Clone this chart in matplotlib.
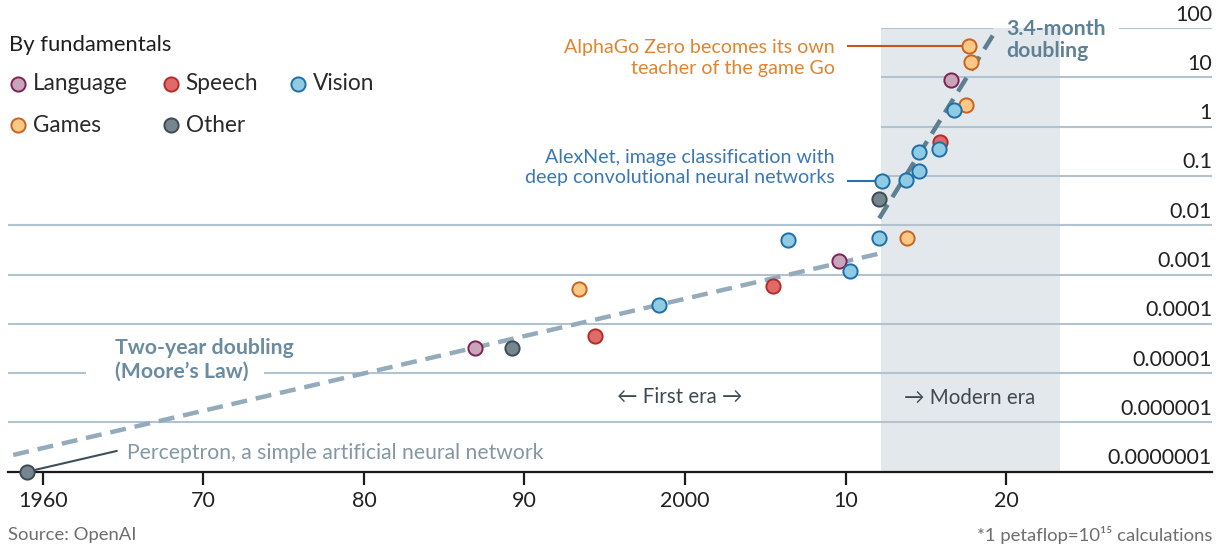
import matplotlib
matplotlib.use("Agg")
import matplotlib.pyplot as plt
import numpy as np

plt.rcParams['font.family'] = ['Lato', 'DejaVu Sans']

# ---------------- data ----------------
language_year = [1986.9, 2009.6, 2016.56]
language_pf = [3.3e-5, 1.9e-3, 8.8]

speech_year = [1994.4, 2005.45, 2015.85]
speech_pf = [5.7e-5, 5.8e-4, 0.49]

games_year = [1993.4, 2013.8, 2017.47, 2017.7, 2017.79]
games_pf = [5.0e-4, 5.4e-3, 2.7, 43.0, 20.7]

other_year = [1959.04, 1989.24, 2012.09]
other_pf = [1e-7, 3.3e-5, 0.034]

vision_year = [1998.37, 2006.4, 2010.27, 2012.07, 2012.28, 2013.75, 2014.58, 2014.58, 2015.83, 2016.72]
vision_pf = [2.4e-4, 4.9e-3, 1.2e-3, 5.5e-3, 0.080, 0.083, 0.31, 0.128, 0.35, 2.2]

moore_year = [1958.17, 2012.3]
moore_pf = [10 ** -6.66, 10 ** -2.56]

modern_year = [2012.09, 2019.45]
modern_pf = [10 ** -1.86, 10 ** 2.0]

modern_era_span = [2012.2, 2023.35]

x_ticks = [1960, 1970, 1980, 1990, 2000, 2010, 2020]
x_tick_labels = ["1960", "70", "80", "90", "2000", "10", "20"]
y_ticks = [1e2, 1e1, 1e0, 1e-1, 1e-2, 1e-3, 1e-4, 1e-5, 1e-6, 1e-7]
y_tick_labels = ["100", "10", "1", "0.1", "0.01", "0.001", "0.0001", "0.00001", "0.000001", "0.0000001"]

categories = ["Language", "Speech", "Vision", "Games", "Other"]
face_colors = {"Language": "#c9a5ba", "Speech": "#e06a68", "Vision": "#8fcbe2",
               "Games": "#fbc886", "Other": "#76868f"}
edge_colors = {"Language": "#7d2157", "Speech": "#b32b2b", "Vision": "#1e6ea8",
               "Games": "#c9631d", "Other": "#3e4b53"}

# ---------------- figure ----------------
W, H = 1224, 549
fig = plt.figure(figsize=(W / 100, H / 100), dpi=100)
ax_l, ax_r, ax_t, ax_b = 8, 1212, 28, 471.7
ax = fig.add_axes([ax_l / W, 1 - ax_b / H, (ax_r - ax_l) / W, (ax_b - ax_t) / H])
ax.set_yscale('log')
ax.set_xlim(1957.84, 2032.81)
ax.set_ylim(1e-7, 1e2)
for s in ['top', 'right', 'left']:
    ax.spines[s].set_visible(False)
ax.spines['bottom'].set_linewidth(1.6)
ax.spines['bottom'].set_color('#1a1a1a')
ax.set_yticks([])
ax.yaxis.set_minor_locator(matplotlib.ticker.NullLocator())
ax.set_xticks(x_ticks)
ax.set_xticklabels(x_tick_labels, fontsize=15.5, color='#222222')
ax.tick_params(axis='x', length=9, width=1.6, color='#1a1a1a', pad=5)

def px(x, y):
    return x / W, 1 - y / H

# shaded modern era
ax.axvspan(modern_era_span[0], modern_era_span[1], color='#e3e8ec', zorder=0, lw=0)

grid_c = '#b2c3cf'
x0, x1 = ax.get_xlim()
shade0 = modern_era_span[0]
for v in y_ticks:
    if v == 1e-7:
        continue
    if v == 1e2:
        ax.hlines(v, shade0, 2019.2, color=grid_c, lw=1.5, zorder=1)
        ax.hlines(v, 2027.05, x1, color=grid_c, lw=1.5, zorder=1)
    elif v >= 1e-1:
        ax.hlines(v, shade0, x1, color=grid_c, lw=1.5, zorder=1)
    elif v == 1e-5:
        ax.hlines(v, x0, 1962.7, color=grid_c, lw=1.5, zorder=1)
        ax.hlines(v, 1973.8, x1, color=grid_c, lw=1.5, zorder=1)
    else:
        ax.hlines(v, x0, x1, color=grid_c, lw=1.5, zorder=1)

# y labels above gridlines at the right
for v, lab in zip(y_ticks, y_tick_labels):
    ax.annotate(lab, xy=(1.0, v), xycoords=('axes fraction', 'data'),
                xytext=(0, 2.5), textcoords='offset points', ha='right', va='bottom',
                fontsize=15.5, color='#222222', annotation_clip=False)

# trend lines
ax.plot(moore_year, moore_pf, color='#93abbb', lw=3.2, dashes=(3.6, 2.0), zorder=2,
        dash_capstyle='butt')
ax.plot(modern_year, modern_pf, color='#5e7f92', lw=3.2, dashes=(3.6, 2.0), zorder=2,
        dash_capstyle='butt')

# connectors
ax.plot([2010.14, 2017.7], [43.0, 43.0], color='#c4561a', lw=1.5, zorder=3)
ax.plot([2010.14, 2012.28], [0.080, 0.080], color='#2a72ab', lw=1.5, zorder=3)
ax.plot([1959.04, 1964.6], [1e-7, 10 ** -6.58], color='#3e4f5a', lw=1.5, zorder=3, clip_on=False)

# points
series = {
    "Language": (language_year, language_pf),
    "Speech": (speech_year, speech_pf),
    "Games": (games_year, games_pf),
    "Other": (other_year, other_pf),
    "Vision": (vision_year, vision_pf),
}
for name, (xs, ys) in series.items():
    ax.scatter(xs, ys, s=105, facecolor=face_colors[name], edgecolor=edge_colors[name],
               linewidth=1.4, zorder=5, clip_on=False)

# annotations text
fig.text(*px(835, 58), "AlphaGo Zero becomes its own\nteacher of the game Go", ha='right',
         va='center', fontsize=14.1, color='#e0842f', linespacing=1.25)
fig.text(*px(835, 167.5), "AlexNet, image classification with\ndeep convolutional neural networks",
         ha='right', va='center', fontsize=14.1, color='#3b78b3', linespacing=1.25)
fig.text(*px(1006, 40), "3.4-month\ndoubling", ha='left', va='center', fontsize=15.3,
         color='#5f8196', fontweight='bold', linespacing=1.15)
fig.text(*px(115, 360), "Two-year doubling\n(Moore\u2019s Law)", ha='left', va='center', fontsize=15.3,
         color='#6b8ba0', fontweight='bold', linespacing=1.2)
fig.text(*px(127, 453), "Perceptron, a simple artificial neural network", ha='left', va='center',
         fontsize=15.2, color='#8497a3')
fig.text(*px(680, 397), "\u2190 First era \u2192", ha='center', va='center', fontsize=14.8,
         color='#3e4a52')
fig.text(*px(970, 398), "\u2192 Modern era", ha='center', va='center', fontsize=14.8,
         color='#3e4a52')

# legend
fig.text(*px(9, 45), "By fundamentals", ha='left', va='center', fontsize=15.8, color='#1e1e1e')
leg_pos = {"Language": (18.3, 84), "Speech": (170.7, 84), "Vision": (297.7, 84),
           "Games": (18.3, 125), "Other": (170.7, 125)}
for name in categories:
    mx, my = leg_pos[name]
    fig.lines.append(matplotlib.lines.Line2D([mx / W], [1 - my / H], transform=fig.transFigure,
                     marker='o', markersize=10.2, markerfacecolor=face_colors[name],
                     markeredgecolor=edge_colors[name], markeredgewidth=1.4, linestyle='none'))
    fig.text(*px(mx + 15, my), name, ha='left', va='center', fontsize=16.3, color='#2a2a2a')

# footer
fig.text(*px(8, 535), "Source: OpenAI", ha='left', va='center', fontsize=13.3, color='#6e6e6e')
fig.text(*px(1212, 535), "*1 petaflop=10\u00b9\u2075 calculations", ha='right', va='center',
         fontsize=13.3, color='#6e6e6e')

fig.savefig("out.png", dpi=100)
